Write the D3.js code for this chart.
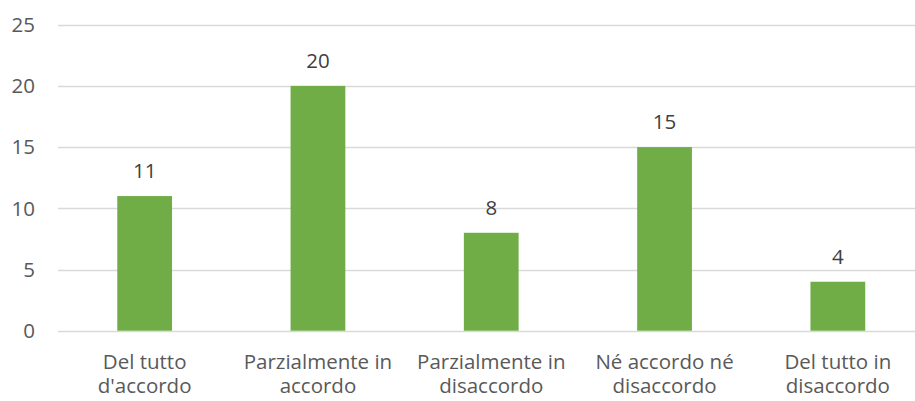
<!DOCTYPE html>
<html><head><meta charset="utf-8">
<script src="https://cdn.jsdelivr.net/npm/d3@7"></script>
<style>body{margin:0;background:#fff}svg{display:block}</style>
</head><body>
<svg id="c" width="915" height="401"></svg>
<script>
const categories = [["Del tutto","d'accordo"],["Parzialmente in","accordo"],["Parzialmente in","disaccordo"],["Né accordo né","disaccordo"],["Del tutto in","disaccordo"]];
const values = [11, 20, 8, 15, 4];
const yTicks = [0, 5, 10, 15, 20, 25];

const svg = d3.select("#c");
const font = "'Open Sans', sans-serif";
const fs = 20.5;
const x = d3.scaleBand().domain(d3.range(categories.length)).range([58, 924.5]).paddingInner(0.684).paddingOuter(0.342);
const y = d3.scaleLinear().domain([0, 25]).range([330.7, 24.7]);

svg.append("g").selectAll("line").data(yTicks).join("line")
  .attr("x1", 58).attr("x2", 915)
  .attr("y1", d => Math.round(y(d)) + 0.5).attr("y2", d => Math.round(y(d)) + 0.5)
  .attr("stroke", "#d9d9d9").attr("stroke-width", 1.3);

svg.append("g").selectAll("text").data(yTicks).join("text")
  .attr("x", 35).attr("y", d => y(d)).attr("dy", "0.36em")
  .attr("text-anchor", "end").attr("font-family", font).attr("font-size", fs)
  .attr("fill", "#595959").text(d => d);

svg.append("g").selectAll("rect").data(values).join("rect")
  .attr("x", (d, i) => x(i)).attr("width", x.bandwidth())
  .attr("y", d => y(d)).attr("height", d => y(0) - y(d))
  .attr("fill", "#70ad47");

svg.append("g").selectAll("text").data(values).join("text")
  .attr("x", (d, i) => x(i) + x.bandwidth() / 2).attr("y", d => y(d) - 18)
  .attr("text-anchor", "middle").attr("font-family", font).attr("font-size", fs)
  .attr("fill", "#404040").text(d => d);

const cl = svg.append("g").selectAll("text").data(categories).join("text")
  .attr("text-anchor", "middle").attr("font-family", font).attr("font-size", fs)
  .attr("fill", "#595959");
cl.each(function(d, i) {
  const t = d3.select(this);
  d.forEach((line, j) => {
    t.append("tspan").attr("x", x(i) + x.bandwidth() / 2).attr("y", 369 + j * 24).text(line);
  });
});
</script>
</body></html>
